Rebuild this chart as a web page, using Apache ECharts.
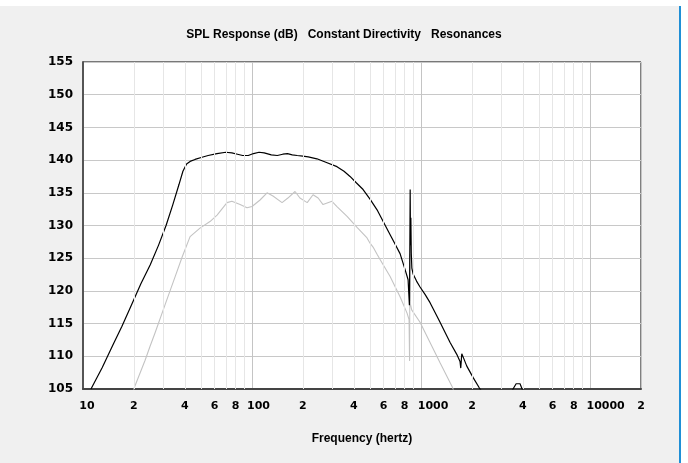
<!DOCTYPE html>
<html>
<head>
<meta charset="utf-8">
<script src="https://cdn.jsdelivr.net/npm/echarts@6/dist/echarts.min.js"></script>
<style>html,body{margin:0;padding:0;background:#f0f0f0;}#c{width:688px;height:463px;}</style>
</head>
<body>
<div id="c"></div>
<script>
var titleText = 'SPL Response (dB)   Constant Directivity   Resonances';
var xName = 'Frequency (hertz)';
var xLabelValues = [10,20,40,60,80,100,200,400,600,800,1000,2000,4000,6000,8000,10000,20000];
var minorGrid = [20,30,40,50,60,70,80,90,200,300,400,500,600,700,800,900,2000,3000,4000,5000,6000,7000,8000,9000];

var splFreq = [11.15,13,15,17,19,22,25,28,31,34,37,39,41,43,46,50,55,62,70,76,82,88,95,102,110,118,130,141,152,162,173,185,200,215,242,278,318,350,380,415,454,500,549,600,656,700,751,801,838,848,853,857,862,866,870,875,882,897,940,986,1060,1130,1210,1295,1390,1485,1626,1700,1717,1741,1780,1864,2037,2213,2300,2600,3000,3350,3500,3650,3750,3850,3960,4200];
var splDb   = [105,108.3,111.7,114.6,117.4,121.1,124.0,127.0,130.0,133.2,136.3,138.3,139.4,139.8,140.1,140.4,140.7,141.0,141.2,141.1,140.9,140.7,140.7,141.0,141.2,141.1,140.8,140.7,140.9,141.0,140.8,140.7,140.6,140.5,140.2,139.6,139.0,138.3,137.5,136.5,135.5,134.0,132.4,130.5,128.6,127.2,125.7,123.4,121.7,121.5,117.8,124,135.5,127,131.2,125.8,123.5,122.6,121.5,120.6,119.4,118.2,116.7,115.2,113.6,112.1,110.3,109.2,108.2,110.4,109.8,108.5,106.7,105.15,104.5,103.5,103,104,105,105.8,106.1,105.8,105,103.5];

var cdFreq = [19.5,20.1,23.3,24.9,26.7,30.6,35,38.5,43,49.2,56.4,62.1,71.1,76,85,93.4,100,111.5,122.7,133,150.5,163,179.6,192,212,229.5,246,263,297,318,365,418,479,499,520,549,572,656,751,826,849,855,859,864,880,986,1130,1295,1525,1600];
var cdDb   = [104,105.2,109.4,111.5,113.6,117.9,122.1,125.1,128.3,129.6,130.6,131.6,133.5,133.7,133.2,132.7,132.9,133.9,135.0,134.5,133.5,134.2,135.2,134.2,133.5,134.7,134.2,133.2,133.7,132.9,131.4,129.7,128.1,127.3,126.7,125.6,124.8,122.2,119.1,116.6,115.6,109.3,125.6,118,117.1,115.2,112.1,109.0,105.4,104];

function pairs(f, d) { return f.map(function (v, i) { return [v, d[i]]; }); }

var chart = echarts.init(document.getElementById('c'), null, {renderer: 'canvas'});
var fontFam = 'DejaVu Sans';
chart.setOption({
  backgroundColor: '#f0f0f0',
  animation: false,
  title: {
    text: titleText, left: 'center', top: 24,
    textStyle: {fontFamily: 'Liberation Sans', fontWeight: 'bold', fontSize: 12, color: '#000'}
  },
  graphic: [
    {type: 'rect', shape: {x: 0, y: 0, width: 688, height: 6}, style: {fill: '#ffffff'}, silent: true},
    {type: 'rect', shape: {x: 681, y: 0, width: 7, height: 463}, style: {fill: '#ffffff'}, silent: true},
    {type: 'rect', shape: {x: 679, y: 6, width: 2, height: 457}, style: {fill: '#1f8fd6'}, silent: true}
  ],
  grid: {left: 83, right: 47, top: 62, bottom: 74, show: true, backgroundColor: '#ffffff', borderColor: '#000', borderWidth: 1},
  xAxis: {
    type: 'log', logBase: 10, min: 10, max: 20000,
    name: xName, nameLocation: 'middle', nameGap: 44,
    nameTextStyle: {fontFamily: 'Liberation Sans', fontWeight: 'bold', fontSize: 12, color: '#000'},
    axisLine: {show: true, lineStyle: {color: '#444', width: 2}},
    axisTick: {show: false},
    splitLine: {show: true, lineStyle: {color: '#c4c4c4', width: 1}},
    axisLabel: {
      customValues: xLabelValues,
      margin: 12,
      color: '#000', fontFamily: fontFam, fontWeight: 'bold', fontSize: 11,
      formatter: function (v) {
        var s = String(Math.round(v));
        var lg = Math.log10(v);
        if (Math.abs(lg - Math.round(lg)) < 1e-6) {
          return '{d' + s.length + '|' + s + '}';
        }
        return s.charAt(0);
      },
      rich: {
        d2: {padding: [0, 0, 0, 8], fontFamily: fontFam, fontWeight: 'bold', fontSize: 11, color: '#000'},
        d3: {padding: [0, 0, 0, 13], fontFamily: fontFam, fontWeight: 'bold', fontSize: 11, color: '#000'},
        d4: {padding: [0, 0, 0, 24], fontFamily: fontFam, fontWeight: 'bold', fontSize: 11, color: '#000'},
        d5: {padding: [0, 0, 0, 31], fontFamily: fontFam, fontWeight: 'bold', fontSize: 11, color: '#000'}
      }
    }
  },
  yAxis: {
    type: 'value', min: 105, max: 155, interval: 5,
    axisLine: {show: true, lineStyle: {color: '#555', width: 2}},
    axisTick: {show: false},
    splitLine: {show: true, lineStyle: {color: '#c8c8c8', width: 1}},
    axisLabel: {margin: 10, color: '#000', fontFamily: fontFam, fontWeight: 'bold', fontSize: 12}
  },
  series: [
    {
      type: 'line', data: [], z: 1, silent: true,
      markLine: {
        silent: true, symbol: ['none', 'none'], animation: false,
        label: {show: false},
        lineStyle: {color: '#e6e6e6', width: 1, type: 'solid'},
        data: minorGrid.map(function (v) { return {xAxis: v}; })
      }
    },
    {
      name: 'Constant Directivity', type: 'line', data: pairs(cdFreq, cdDb), z: 3,
      showSymbol: false, symbol: 'none', clip: true,
      lineStyle: {color: '#c3c3c3', width: 1.1}
    },
    {
      name: 'SPL Response', type: 'line', data: pairs(splFreq, splDb), z: 4,
      showSymbol: false, symbol: 'none', clip: true,
      lineStyle: {color: '#000', width: 1.2}
    }
  ]
});
</script>
</body>
</html>
